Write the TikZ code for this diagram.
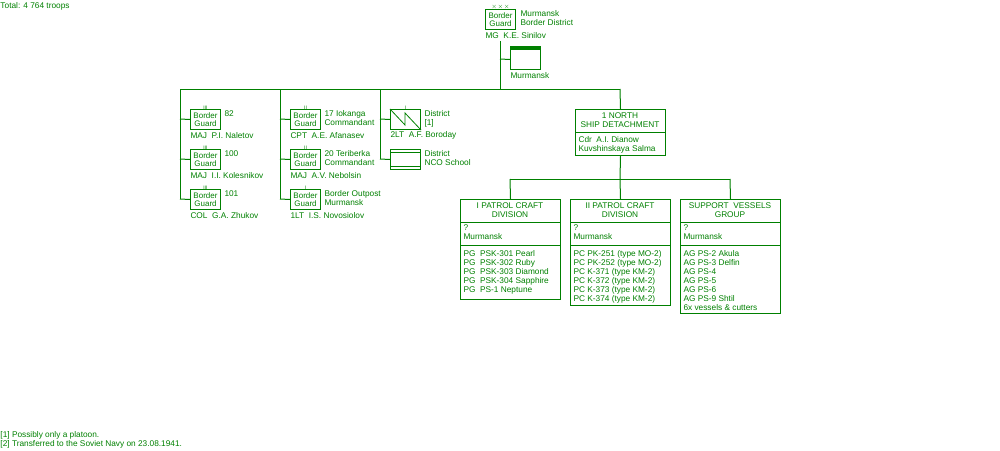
\documentclass[tikz,border=0pt]{standalone}
\usepackage{fontspec}
\setmainfont{Liberation Sans}
\definecolor{og}{RGB}{0,128,0}
\newcommand{\ml}[1]{\begin{tabular}[t]{@{}l@{}}#1\end{tabular}}
\newcommand{\mc}[1]{\begin{tabular}[t]{@{}c@{}}#1\end{tabular}}
\begin{document}
\begin{tikzpicture}[x=1pt,y=-1pt,line width=1pt,color=og,
  every node/.style={text=og,font=\fontsize{8.3}{9}\selectfont,inner sep=0pt},
  t/.style={anchor=base west},
  bg/.style={draw=og,minimum width=30pt,minimum height=20pt,anchor=north west,align=center,font=\fontsize{8}{8}\selectfont},
  ech/.style={anchor=south,font=\fontsize{5}{5}\selectfont}]
\useasboundingbox (0,0) rectangle (1000,450);
\node[t] (total) at (0,8) {Total: 4 764 troops};
\node[t] (f1) at (0,437) {[1] Possibly only a platoon.};
\node[t] (f2) at (0,446) {[2] Transferred to the Soviet Navy on 23.08.1941.};
% top
\node[bg] (top) at (485,9) {Border\\Guard};
\node[ech,font=\fontsize{6}{6}\selectfont] (topx) at ([yshift=-0.5pt]top.north) {$\times\!\times\!\times$};
\node[t] (topl) at (520,16) {\ml{Murmansk\\Border District}};
\node[t] (topc) at (485,38) {MG\ \ K.E. Sinilov};
\coordinate (trunk) at (500,41);
\coordinate (hub) at (500,89);
\draw (trunk) -- (hub);
\node[draw=og,minimum width=30pt,minimum height=20pt,anchor=north west] (hq) at (510,49) {};
\fill (hq.north west) rectangle ([yshift=3pt]hq.north east);
\node[t] (hql) at (510,78) {Murmansk};
\draw (500,59) -- (hq.west);
\draw (180,89) -- (620,89);
% column 1
\draw (180,89) -- (180,199);
\foreach \n/\y/\lab/\cmd/\e in {a/109/82/MAJ\ \ P.I. Naletov/III,b/149/100/MAJ\ \ I.I. Kolesnikov/III,c/189/101/COL\ \ G.A. Zhukov/III}{
  \node[bg] (c1\n) at (190,\y) {Border\\Guard};
  \node[ech] at ([yshift=-1pt]c1\n.north) {\e};
  \node[t] at (224,\y+7) {\lab};
  \node[t] at (190,\y+29) {\cmd};
  \draw (180,\y+10) -- (c1\n.west);
}
% column 2
\draw (280,89) -- (280,199);
\foreach \n/\y/\lab/\cmd/\e in {a/109/{17 Iokanga\\Commandant}/CPT\ \ A.E. Afanasev/II,b/149/{20 Teriberka\\Commandant}/MAJ\ \ A.V. Nebolsin/II,c/189/{Border Outpost\\Murmansk}/1LT\ \ I.S. Novosiolov/I}{
  \node[bg] (c2\n) at (290,\y) {Border\\Guard};
  \node[ech] at ([yshift=-1pt]c2\n.north) {\e};
  \node[t] at (324,\y+7) {\ml{\lab}};
  \node[t] at (290,\y+29) {\cmd};
  \draw (280,\y+10) -- (c2\n.west);
}
% column 3
\draw (380,89) -- (380,159);
\node[draw=og,minimum width=30pt,minimum height=20pt,anchor=north west] (c3a) at (390,109) {};
\draw[line width=0.8pt] (c3a.north west) -- (405,125) -- (405,113) -- (c3a.south east);
\node[ech] at ([yshift=-1pt]c3a.north) {I};
\node[t] at (424,116) {\ml{District\\{[1]}}};
\node[t] at (390,137) {2LT\ \ A.F. Boroday};
\draw (380,119) -- (c3a.west);
\node[draw=og,minimum width=30pt,minimum height=20pt,anchor=north west] (c3b) at (390,149) {};
\draw (390,152.5) -- (420,152.5) (390,166) -- (420,166);
\node[t] at (424,156) {\ml{District\\NCO School}};
\draw (380,159) -- (c3b.west);
% north detachment
\node[draw=og,minimum width=90pt,minimum height=46pt,anchor=north west] (nd) at (575,109) {};
\draw (575,132) -- (665,132);
\node[anchor=base] at (620,118) {\mc{1 NORTH\\SHIP DETACHMENT}};
\node[t] at (578,142) {\ml{Cdr\ \ A.I. Dianow\\Kuvshinskaya Salma}};
\draw (620,89) -- (nd.north);
\draw (nd.south) -- (620,179);
\draw (510,179) -- (730,179);
% divisions
\foreach \n/\x/\h/\title/\items in {
 d1/460/100/{I PATROL CRAFT\\DIVISION}/{PG\ \ PSK-301 Pearl\\PG\ \ PSK-302 Ruby\\PG\ \ PSK-303 Diamond\\PG\ \ PSK-304 Sapphire\\PG\ \ PS-1 Neptune},
 d2/570/106/{II PATROL CRAFT\\DIVISION}/{PC PK-251 (type MO-2)\\PC PK-252 (type MO-2)\\PC K-371 (type KM-2)\\PC K-372 (type KM-2)\\PC K-373 (type KM-2)\\PC K-374 (type KM-2)},
 d3/680/114/{SUPPORT\ \ VESSELS\\GROUP}/{AG PS-2 Akula\\AG PS-3 Delfin\\AG PS-4\\AG PS-5\\AG PS-6\\AG PS-9 Shtil\\6x vessels \& cutters}}{
  \node[draw=og,minimum width=100pt,minimum height=\h pt,anchor=north west] (\n) at (\x,199) {};
  \draw (\x,222) -- (\x+100,222) (\x,245) -- (\x+100,245);
  \node[anchor=base] at (\x+50,208) {\mc{\title}};
  \node[t] at (\x+3,230) {\ml{?\\Murmansk}};
  \node[t] at (\x+3,256) {\ml{\items}};
  \draw (\x+50,179) -- (\n.north);
}
\end{tikzpicture}
\end{document}
